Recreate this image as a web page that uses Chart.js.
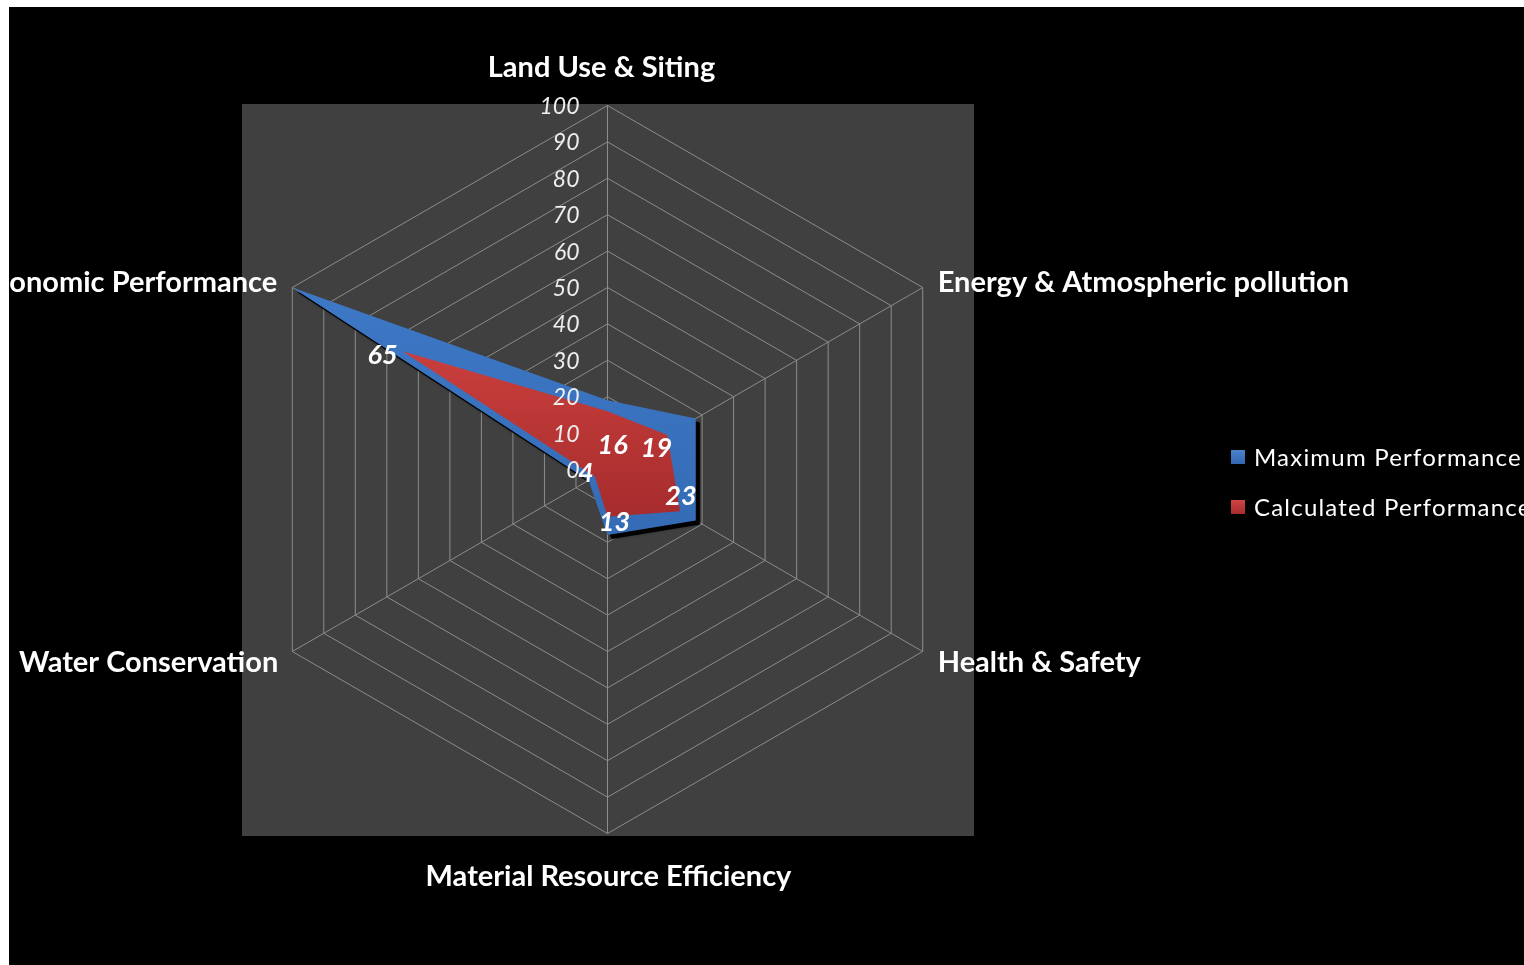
<!DOCTYPE html>
<html>
<head>
<meta charset="utf-8">
<script src="https://cdn.jsdelivr.net/npm/chart.js@4/dist/chart.umd.min.js"></script>
<style>
  html, body { margin: 0; padding: 0; background: #fff; width: 1524px; height: 965px; overflow: hidden; }
  #frame { position: absolute; left: 9px; top: 7px; width: 1515px; height: 958px; background: #000; overflow: hidden; }
  #chart { position: absolute; left: 0; top: 0; }
  .legend-item { position: absolute; font-family: Lato, "Open Sans", sans-serif; font-size: 24px; color: #fff;
                 letter-spacing: 1.2px; white-space: nowrap; line-height: 26px; }
  .swatch { position: absolute; width: 14px; height: 14px; }
</style>
</head>
<body>
<div id="frame">
  <canvas id="chart" width="1515" height="958"></canvas>
  <div class="swatch" style="left:1222px; top:443px; background:linear-gradient(#4a82cc,#3366b0);"></div>
  <div class="legend-item" style="left:1245px; top:437px;">Maximum Performance</div>
  <div class="swatch" style="left:1222px; top:493px; background:linear-gradient(#cf4545,#a82c2c);"></div>
  <div class="legend-item" style="left:1245px; top:487px;">Calculated Performance</div>
</div>
<script>
// Criteria around the radar, clockwise from the top
const categories = [
  'Land Use & Siting',
  'Energy & Atmospheric pollution',
  'Health & Safety',
  'Material Resource Efficiency',
  'Water Conservation',
  'Economic Performance'
];
const maximumPerformance = [19, 28, 28, 18, 6, 100];
const calculatedPerformance = [16, 19, 23, 13, 4, 65];
const tickValues = [0, 10, 20, 30, 40, 50, 60, 70, 80, 90, 100];

// Radar geometry inside the canvas
const CX = 598.5, CY = 462.5, R = 364;

// Category label placement relative to each spoke tip: [align, dx, dy]
const labelPlacement = [
  ['center', -6, -38],
  ['left', 15, -5],
  ['left', 15, 11],
  ['center', 1, 43],
  ['right', -14, 11],
  ['right', -15, -5]
];
// Value label offsets from each calculated point
const valueLabelOffsets = [[5, 34], [-11, 13], [1, -15], [7, 5], [-9, -3], [-20, 4]];

const ctx = document.getElementById('chart').getContext('2d');

function vGradient(top, bottom, stops) {
  const g = ctx.createLinearGradient(0, top, 0, bottom);
  stops.forEach(([o, c]) => g.addColorStop(o, c));
  return g;
}
const blueFill = vGradient(CY - R * 0.5, CY + R * 0.2, [[0, '#3d78c6'], [1, '#356bb5']]);
const redFill = vGradient(CY - R * 0.33, CY + R * 0.15, [[0, '#c93f3d'], [1, '#a52b2c']]);

const decorations = {
  id: 'decorations',
  beforeDraw(chart) {
    const c = chart.ctx;
    c.save();
    c.fillStyle = '#404040';
    c.fillRect(233, 97, 732, 732);
    c.restore();
  },
  beforeDatasetsDraw(chart) {
    // drop shadow under the maximum-performance area
    const pts = chart.getDatasetMeta(0).data;
    const c = chart.ctx;
    c.save();
    c.fillStyle = '#000';
    c.shadowColor = 'rgba(0,0,0,0.6)';
    c.shadowBlur = 2;
    c.beginPath();
    pts.forEach((p, i) => {
      if (i === 0) c.moveTo(p.x + 4, p.y + 4); else c.lineTo(p.x + 4, p.y + 4);
    });
    c.closePath();
    c.fill();
    c.restore();
  },
  afterDatasetsDraw(chart) {
    const c = chart.ctx;
    const scale = chart.scales.r;
    c.save();
    c.textBaseline = 'middle';

    // radial tick labels, left of the top spoke
    c.font = 'italic 23px Lato';
    c.textAlign = 'right';
    c.fillStyle = '#eeeeee';
    tickValues.forEach(v => {
      const p = scale.getPointPositionForValue(0, v);
      c.fillText(String(v), p.x - 28, p.y + 1);
    });

    // value labels of the calculated series
    c.fillStyle = '#ffffff';
    c.font = 'italic bold 27px Lato';
    c.textAlign = 'center';
    const meta = chart.getDatasetMeta(1);
    meta.data.forEach((pt, i) => {
      const [dx, dy] = valueLabelOffsets[i];
      c.fillText(String(calculatedPerformance[i]), pt.x + dx, pt.y + dy);
    });

    // category labels at the spoke tips
    c.font = 'bold 29px Lato';
    chart.data.labels.forEach((lab, i) => {
      const p = scale.getPointPosition(i, scale.drawingArea);
      const [align, dx, dy] = labelPlacement[i];
      c.textAlign = align;
      c.fillText(lab, p.x + dx, p.y + dy);
    });
    c.restore();
  }
};

new Chart(ctx, {
  type: 'radar',
  data: {
    labels: categories,
    datasets: [
      {
        label: 'Maximum Performance',
        data: maximumPerformance,
        backgroundColor: blueFill,
        borderWidth: 0,
        pointRadius: 0,
        fill: true,
        order: 2
      },
      {
        label: 'Calculated Performance',
        data: calculatedPerformance,
        backgroundColor: redFill,
        borderWidth: 0,
        pointRadius: 0,
        fill: true,
        order: 1
      }
    ]
  },
  options: {
    responsive: false,
    devicePixelRatio: 1,
    animation: false,
    elements: { line: { tension: 0 } },
    layout: { padding: 0 },
    plugins: {
      legend: { display: false },
      tooltip: { enabled: false }
    },
    scales: {
      r: {
        min: 0,
        max: 100,
        ticks: { display: false, stepSize: 10 },
        pointLabels: { display: false },
        grid: { color: '#8c8c8c', lineWidth: 1 },
        angleLines: { color: '#8c8c8c', lineWidth: 1 },
        afterFit(scale) {
          scale.xCenter = CX;
          scale.yCenter = CY;
          scale.drawingArea = R;
        }
      }
    }
  },
  plugins: [decorations]
});
</script>
</body>
</html>
